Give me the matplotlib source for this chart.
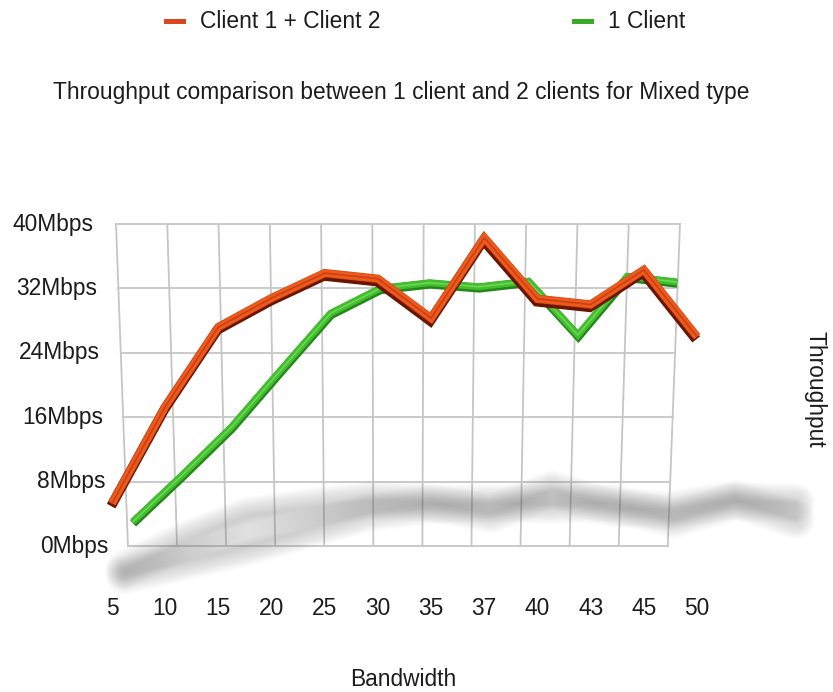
import numpy as np
import matplotlib
matplotlib.use("Agg")
import matplotlib.pyplot as plt
import matplotlib.patheffects as pe
from matplotlib.lines import Line2D
from matplotlib.transforms import Affine2D

plt.rcParams["font.family"] = ["Liberation Sans", "DejaVu Sans"]
FS = 16.4
TXT = "#1c1c1c"

# ---- data -------------------------------------------------------------
bandwidth = ["5", "10", "15", "20", "25", "30", "35", "37", "40", "43", "45", "50"]
two_clients = [5.3, 17.3, 27.2, 30.8, 33.9, 33.2, 28.3, 38.3, 30.7, 30.0, 34.3, 26.0]
one_client = [3.0, 8.8, 14.8, 21.9, 28.9, 32.0, 32.7, 32.2, 32.9, 26.2, 33.5, 32.8]
y_ticks = [0, 8, 16, 24, 32, 40]
y_tick_labels = ["0Mbps", "8Mbps", "16Mbps", "24Mbps", "32Mbps", "40Mbps"]
series_names = ["Client 1 + Client 2", "1 Client"]

RED = "#ee5a1c"
RED_DARK = "#6a1500"
GREEN = "#44bf2e"
GREEN_DARK = "#24861a"

fig = plt.figure(figsize=(8.33, 6.92), dpi=100)
ax = fig.add_axes([112 / 833, 1 - 546 / 692, 585 / 833, 322 / 692])
ax.set_xlim(0, len(bandwidth) - 1)
ax.set_ylim(0, 40)
ax.set_axis_off()

n = len(bandwidth)
idx = np.arange(n)

# ---- back wall grid (slight perspective) -----------------------------
top_l, top_r = 0.075, 10.68
bot_l, bot_r = 0.30, 10.45
grid_kw = dict(color="#c6c6c6", lw=1.3, zorder=1, clip_on=False)
for i in range(n):
    xt = top_l + i * (top_r - top_l) / (n - 1)
    xb = bot_l + i * (bot_r - bot_l) / (n - 1)
    ax.plot([xb, xt], [0, 40], **grid_kw)
for v in y_ticks:
    f = v / 40
    xl = bot_l + (top_l - bot_l) * f
    xr = bot_r + (top_r - bot_r) * f
    ax.plot([xl, xr], [v, v], **grid_kw)

# ---- soft floor shadow of both series --------------------------------
def draw_shadow(values):
    vals = np.asarray(values, dtype=float)
    xs = 0.24 + 1.147 * idx
    ys = -4.5 + 0.3 * vals
    for w in range(28, 1, -2):
        ax.plot(xs, ys, color="#6a6a6a", lw=w, alpha=0.022,
                solid_capstyle="round", solid_joinstyle="round",
                zorder=2, clip_on=False)

draw_shadow(two_clients)
draw_shadow(one_client)

# ---- series lines drawn as raised ribbons ----------------------------
green_tr = Affine2D().scale(0.93, 1).translate(0.39, 0) + ax.transData
ax.plot(idx, one_client, color=GREEN, lw=4.5, transform=green_tr,
        solid_joinstyle="miter", solid_capstyle="butt", zorder=4, clip_on=False,
        path_effects=[pe.Stroke(linewidth=6, foreground=GREEN_DARK, offset=(0.3, -1.2)),
                      pe.Stroke(linewidth=5, foreground="#33a824"),
                      pe.Normal()])
ax.plot(idx, one_client, color="#86e470", lw=1.0, transform=green_tr,
        solid_joinstyle="miter", zorder=4, clip_on=False, alpha=0.7)

ax.plot(idx, two_clients, color=RED, lw=5, solid_joinstyle="miter",
        solid_capstyle="butt", zorder=5, clip_on=False,
        path_effects=[pe.Stroke(linewidth=7, foreground=RED_DARK, offset=(-0.6, -2.0)),
                      pe.Stroke(linewidth=6, foreground="#d24818"),
                      pe.Normal()])
ax.plot(idx, two_clients, color="#c23a12", lw=1.2, solid_joinstyle="miter",
        zorder=5, clip_on=False, alpha=0.8)

# ---- axis labels ------------------------------------------------------
for i, lab in enumerate(bandwidth):
    ax.text(i, -7.8, lab, ha="center", va="center", fontsize=FS, color=TXT)

for v, lab in zip(y_ticks, y_tick_labels):
    xr = -0.34 + 0.28 * (40 - v) / 40
    ax.text(xr, v, lab, ha="right", va="center", fontsize=FS, color=TXT)

fig.text(403 / 833, 1 - 679 / 692, "Bandwidth", ha="center", va="center",
         fontsize=FS, color=TXT)
fig.text(815 / 833, 1 - 389 / 692, "Throughput", ha="center", va="center",
         rotation=270, fontsize=FS, color=TXT)
fig.text(401 / 833, 1 - 93 / 692,
         "Throughput comparison between 1 client and 2 clients for Mixed type",
         ha="center", va="center", fontsize=FS, color=TXT)

# ---- legend -----------------------------------------------------------
handles = [Line2D([], [], color="#d9481c", lw=3.6),
           Line2D([], [], color="#3aaa28", lw=3.6)]
fig.legend(handles, series_names, loc="center left",
           bbox_to_anchor=(166 / 833, 1 - 22 / 692), ncol=2, frameon=False,
           borderpad=0, borderaxespad=0, handlelength=0.75, handletextpad=0.75,
           columnspacing=8.5, prop={"size": FS}, labelcolor=TXT)

fig.savefig("out.png", dpi=100, facecolor="white")
